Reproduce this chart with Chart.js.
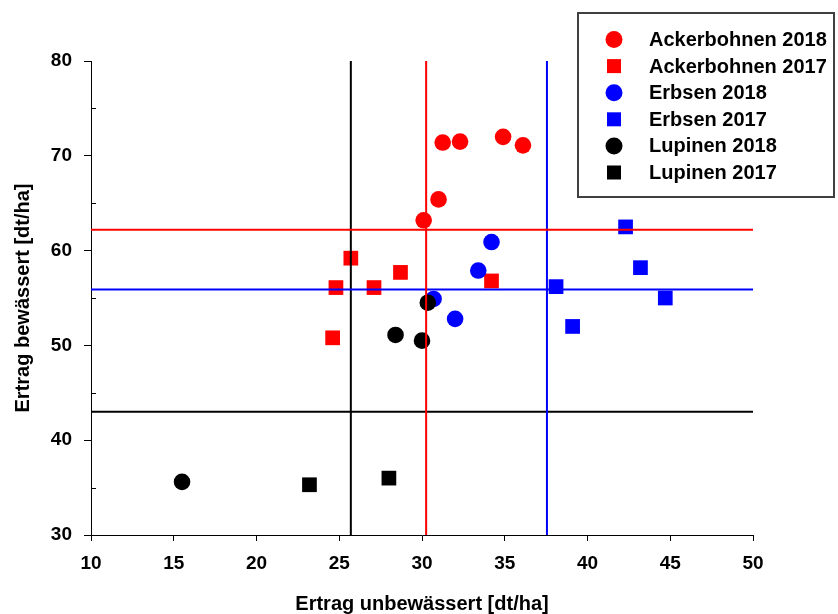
<!DOCTYPE html>
<html lang="de">
<head>
<meta charset="utf-8">
<title>Ertrag bewässert vs. unbewässert</title>
<script src="https://cdn.jsdelivr.net/npm/chart.js@4.4.1/dist/chart.umd.min.js"></script>
<style>
  html, body { margin: 0; padding: 0; background: #fff; }
  canvas { display: block; }
</style>
</head>
<body>
<canvas id="c" width="838" height="614"></canvas>
<script>
// Yields in dt/ha: x = without irrigation, y = with irrigation
const ackerbohnen2018X = [30.1, 31.0, 31.25, 32.3, 34.9, 36.1];
const ackerbohnen2018Y = [63.2, 65.4, 71.4, 71.5, 72.0, 71.1];
const ackerbohnen2017X = [24.6, 24.8, 25.7, 27.1, 28.7, 34.2];
const ackerbohnen2017Y = [50.8, 56.1, 59.2, 56.1, 57.7, 56.8];
const erbsen2018X = [30.7, 32.0, 33.4, 34.2];
const erbsen2018Y = [54.9, 52.8, 57.9, 60.9];
const erbsen2017X = [38.1, 39.1, 42.3, 43.2, 44.7];
const erbsen2017Y = [56.2, 52.0, 62.5, 58.2, 55.0];
const lupinen2018X = [15.5, 28.4, 30.0, 30.35];
const lupinen2018Y = [35.6, 51.1, 50.5, 54.5];
const lupinen2017X = [23.2, 28.0];
const lupinen2017Y = [35.3, 36.0];

// Reference levels per crop (vertical: unbewässert, horizontal: bewässert)
const refCrops  = ['Ackerbohnen', 'Erbsen', 'Lupinen'];
const refColors = ['#ff0000', '#0000ff', '#000000'];
const refX = [30.25, 37.55, 25.7];
const refY = [62.2, 55.9, 43.0];

// Axis ranges and ticks
const xMin = 10, xMax = 50, xStep = 5;
const yMin = 30, yMax = 80, yStep = 10;
const yMinorTicks = [35, 45, 55, 65, 75];

const FONT = '"Liberation Sans", Arial, Helvetica, sans-serif';

function pts(xs, ys) { return xs.map((x, i) => ({ x: x, y: ys[i] })); }

const seriesDefs = [
  { label: 'Ackerbohnen 2018', xs: ackerbohnen2018X, ys: ackerbohnen2018Y, color: '#ff0000', style: 'circle', order: 3 },
  { label: 'Ackerbohnen 2017', xs: ackerbohnen2017X, ys: ackerbohnen2017Y, color: '#ff0000', style: 'rect',   order: 3 },
  { label: 'Erbsen 2018',      xs: erbsen2018X,      ys: erbsen2018Y,      color: '#0000ff', style: 'circle', order: 2 },
  { label: 'Erbsen 2017',      xs: erbsen2017X,      ys: erbsen2017Y,      color: '#0000ff', style: 'rect',   order: 2 },
  { label: 'Lupinen 2018',     xs: lupinen2018X,     ys: lupinen2018Y,     color: '#000000', style: 'circle', order: 1 },
  { label: 'Lupinen 2017',     xs: lupinen2017X,     ys: lupinen2017Y,     color: '#000000', style: 'rect',   order: 1 }
];

const datasets = seriesDefs.map(s => ({
  label: s.label,
  data: pts(s.xs, s.ys),
  backgroundColor: s.color,
  borderColor: s.color,
  borderWidth: 0,
  pointStyle: s.style,
  pointRadius: s.style === 'circle' ? 8.3 : 10.4,
  pointHoverRadius: s.style === 'circle' ? 8.3 : 10.4,
  showLine: false,
  order: s.order,
  isSeries: true
}));

// reference lines, drawn above the markers
refCrops.forEach((crop, i) => {
  datasets.push({
    label: crop + ' (unbewässert)',
    data: [{ x: refX[i], y: yMin }, { x: refX[i], y: yMax }],
    borderColor: refColors[i], backgroundColor: refColors[i],
    borderWidth: 2, pointRadius: 0, showLine: true, order: 0
  });
  datasets.push({
    label: crop + ' (bewässert)',
    data: [{ x: xMin, y: refY[i] }, { x: xMax, y: refY[i] }],
    borderColor: refColors[i], backgroundColor: refColors[i],
    borderWidth: 2, pointRadius: 0, showLine: true, order: 0
  });
});

// Small inward ticks between the labelled values of the y axis
const minorTicksPlugin = {
  id: 'minorTicks',
  afterDatasetsDraw(chart) {
    const ctx = chart.ctx, ys = chart.scales.y, left = chart.chartArea.left;
    ctx.save();
    ctx.strokeStyle = '#000';
    ctx.lineWidth = 1;
    yMinorTicks.forEach(v => {
      const py = Math.round(ys.getPixelForValue(v)) + 0.5;
      ctx.beginPath();
      ctx.moveTo(left, py);
      ctx.lineTo(left + 5, py);
      ctx.stroke();
    });
    ctx.restore();
  }
};

// Boxed legend in the upper right corner
const boxLegendPlugin = {
  id: 'boxLegend',
  afterDraw(chart) {
    const ctx = chart.ctx;
    const bx = 578, by = 13, bw = 256, bh = 184;
    ctx.save();
    ctx.fillStyle = '#fff';
    ctx.fillRect(bx, by, bw, bh);
    ctx.strokeStyle = '#404040';
    ctx.lineWidth = 2;
    ctx.strokeRect(bx, by, bw, bh);
    const items = chart.data.datasets.filter(d => d.isSeries);
    ctx.font = 'bold 20px ' + FONT;
    ctx.textBaseline = 'middle';
    ctx.textAlign = 'left';
    items.forEach((d, i) => {
      const cy = 39.5 + i * 26.6;
      const cx = 614;
      ctx.fillStyle = d.backgroundColor;
      if (d.pointStyle === 'circle') {
        ctx.beginPath();
        ctx.arc(cx, cy, 8.5, 0, Math.PI * 2);
        ctx.fill();
      } else {
        ctx.fillRect(cx - 7, cy - 7, 14, 14);
      }
      ctx.fillStyle = '#000';
      ctx.fillText(d.label, 649, cy + 1);
    });
    ctx.restore();
  }
};

const tickFont = { family: FONT, size: 19, weight: 'bold' };
const titleFont = { family: FONT, size: 20, weight: 'bold', lineHeight: 1 };

new Chart(document.getElementById('c'), {
  type: 'scatter',
  data: { datasets: datasets },
  options: {
    responsive: false,
    animation: false,
    events: [],
    layout: { padding: { top: 61, right: 85, left: 0, bottom: 0 } },
    plugins: {
      legend: { display: false },
      tooltip: { enabled: false }
    },
    scales: {
      x: {
        type: 'linear',
        min: xMin, max: xMax,
        ticks: { stepSize: xStep, color: '#000', font: tickFont, padding: 11, maxRotation: 0 },
        grid: { drawOnChartArea: false, drawTicks: true, tickLength: 6, color: '#000' },
        border: { display: true, color: '#000', width: 1 },
        title: { display: true, text: 'Ertrag unbewässert [dt/ha]', color: '#000', font: titleFont, padding: { top: 0, bottom: 0 } },
        afterFit(scale) { scale.height = 79; }
      },
      y: {
        type: 'linear',
        min: yMin, max: yMax,
        ticks: { stepSize: yStep, color: '#000', font: tickFont, padding: 12 },
        grid: { drawOnChartArea: false, drawTicks: true, tickLength: 7, color: '#000' },
        border: { display: true, color: '#000', width: 1 },
        title: { display: true, text: 'Ertrag bewässert [dt/ha]', color: '#000', font: titleFont, padding: { top: 13, bottom: 0 } },
        afterFit(scale) { scale.width = 91; }
      }
    }
  },
  plugins: [minorTicksPlugin, boxLegendPlugin]
});
</script>
</body>
</html>
